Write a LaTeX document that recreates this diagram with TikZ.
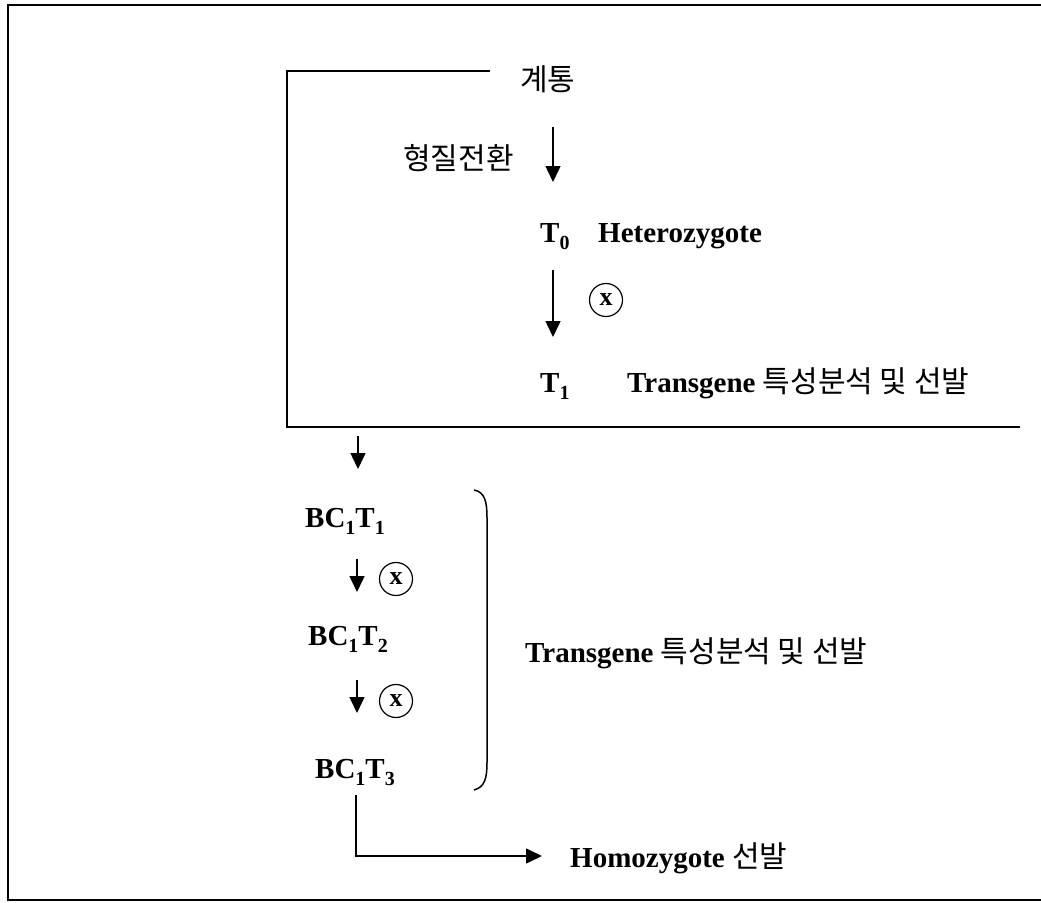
\documentclass[tikz,border=0pt]{standalone}
\usepackage{fontspec}
\setmainfont{Liberation Serif}
\newfontfamily\krfont{Noto Sans CJK KR}
\usetikzlibrary{arrows.meta}
% lowered subscript digits used in the generation labels
\newcommand{\lowsub}[1]{\raisebox{-7pt}{\fontsize{20}{20}\selectfont #1}}
% Korean words inside the bold Latin labels
\newcommand{\ko}[1]{{\mdseries\fontsize{30}{34}\selectfont\krfont #1}}
\begin{document}
\begin{tikzpicture}[x=1pt,y=-1pt,
  lbl/.style={anchor=base west,inner sep=0pt,font=\fontsize{29}{34}\selectfont\bfseries},
  kr/.style={anchor=base west,inner sep=0pt,font=\fontsize{30}{34}\selectfont\krfont},
  flow/.style={line width=1.5pt,-{Triangle[width=15pt,length=16pt]}},
  cross/.style={circle,draw,line width=1.2pt,minimum size=33pt,inner sep=0pt,
                font=\fontsize{26}{26}\selectfont\bfseries},
  frame/.style={line width=2pt},
  box/.style={line width=1.5pt}]
\useasboundingbox (0,0) rectangle (1041,902);

% outer frame (open on the right)
\coordinate (fTR) at (1041,5);
\coordinate (fTL) at (8,5);
\coordinate (fBL) at (8,900);
\coordinate (fBR) at (1041,900);
\draw[frame] (fTR) -- (fTL) -- (fBL) -- (fBR);

% bracket enclosing the first generations
\coordinate (bTR) at (490,71);
\coordinate (bTL) at (287,71);
\coordinate (bBL) at (287,427);
\coordinate (bBR) at (1020,427);
\draw[box] (bTR) -- (bTL) -- (bBL) -- (bBR);

% upper flow
\node[kr] (line) at (520,90) {계통};
\node[kr] (transf) at (403,169) {형질전환};
\coordinate (a1s) at (553,127);
\coordinate (a1e) at (553,182);
\draw[flow] (a1s) -- (a1e);

\node[lbl] (t0) at (540,242) {T\lowsub{0}};
\node[lbl] (hetero) at (598,242) {Heterozygote};
\coordinate (a2s) at (553,270);
\coordinate (a2e) at (553,337);
\draw[flow] (a2s) -- (a2e);
\node[cross] (x1) at (606,300) {x};

\node[lbl] (t1) at (540,392) {T\lowsub{1}};
\node[lbl] (sel1) at (627,392) {Transgene \ko{특성분석 및 선발}};

% backcross generations
\coordinate (a3s) at (358,436);
\coordinate (a3e) at (358,469);
\draw[flow] (a3s) -- (a3e);

\node[lbl] (bc1) at (305,527) {BC\lowsub{1}T\lowsub{1}};
\coordinate (a4s) at (357,559);
\coordinate (a4e) at (357,592);
\draw[flow] (a4s) -- (a4e);
\node[cross] (x2) at (396,579) {x};

\node[lbl] (bc2) at (308,645) {BC\lowsub{1}T\lowsub{2}};
\coordinate (a5s) at (357,680);
\coordinate (a5e) at (357,713);
\draw[flow] (a5s) -- (a5e);
\node[cross] (x3) at (396,701) {x};

\node[lbl] (bc3) at (315,778) {BC\lowsub{1}T\lowsub{3}};

% right parenthesis grouping the backcross generations
\coordinate (pTop) at (474,490);
\coordinate (pBot) at (474,790);
\draw[box] (pTop) .. controls (485,492) and (487,502) .. (487,518)
  -- (487,762) .. controls (487,778) and (485,787) .. (pBot);
\node[lbl] (sel2) at (525,662) {Transgene \ko{특성분석 및 선발}};

% final selection
\coordinate (hs) at (356,795);
\coordinate (hc) at (356,856);
\coordinate (he) at (542,856);
\draw[flow] (hs) -- (hc) -- (he);
\node[lbl] (homo) at (570,867) {Homozygote \ko{선발}};
\end{tikzpicture}
\end{document}
